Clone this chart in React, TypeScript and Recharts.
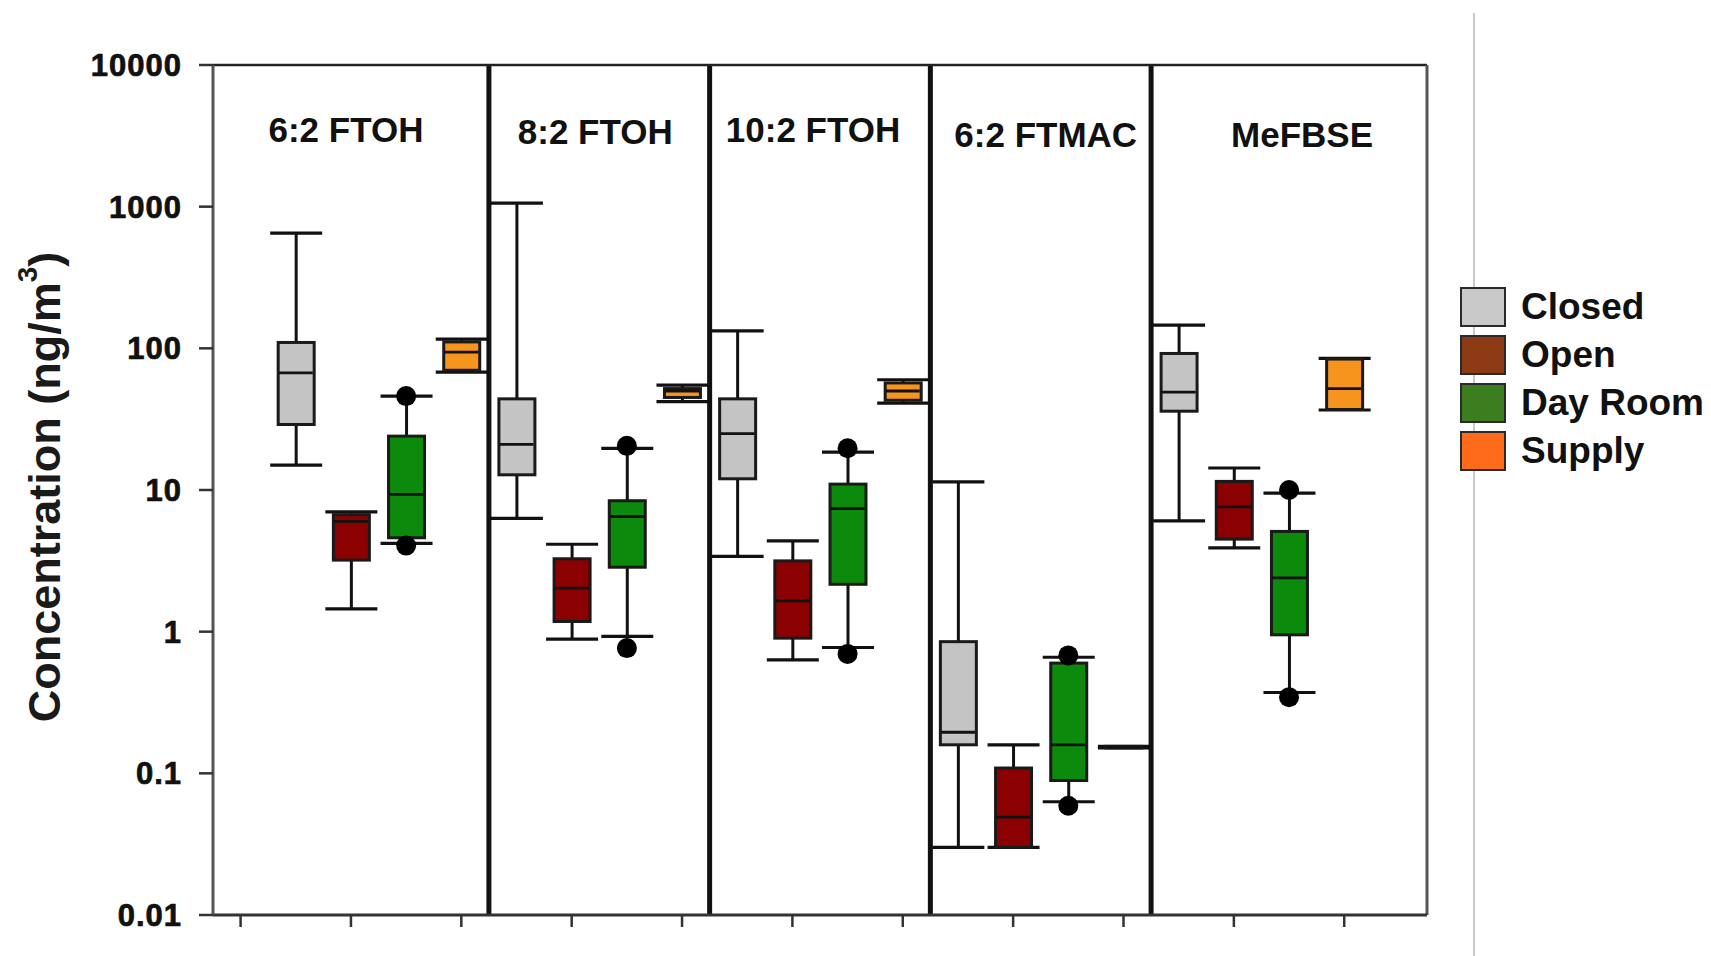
import React from 'react';
import {
  ComposedChart,
  XAxis,
  YAxis,
  Bar,
  Scatter,
  Cell,
  ReferenceLine,
  ReferenceArea,
  Legend,
} from 'recharts';

// ---------- data ----------
const compounds = ['6:2 FTOH', '8:2 FTOH', '10:2 FTOH', '6:2 FTMAC', 'MeFBSE'];
const groups = ['Closed', 'Open', 'Day Room', 'Supply'];

// [lower whisker, Q1, median, Q3, upper whisker] for each compound (ng/m3)
const closedStats = [
  [15, 29, 67, 110, 650],
  [6.3, 12.8, 21, 44, 1060],
  [3.4, 12, 25, 44, 133],
  [0.03, 0.159, 0.195, 0.85, 11.4],
  [6.05, 36, 49, 92, 146],
];
const openStats = [
  [1.45, 3.2, 6.0, 6.7, 7.0],
  [0.885, 1.18, 2.03, 3.27, 4.14],
  [0.632, 0.9, 1.65, 3.16, 4.37],
  [0.03, 0.03, 0.049, 0.109, 0.159],
  [3.9, 4.5, 7.6, 11.5, 14.3],
];
const dayRoomStats = [
  [4.2, 4.6, 9.3, 24, 46],
  [0.925, 2.85, 6.5, 8.4, 19.7],
  [0.773, 2.16, 7.4, 11, 18.5],
  [0.063, 0.089, 0.159, 0.6, 0.66],
  [0.372, 0.95, 2.4, 5.1, 9.5],
];
const supplyStats = [
  [68, 70, 94, 111, 116],
  [42, 45, 50, 52, 55],
  [41, 43, 50, 57, 60],
  [0.151, 0.151, 0.153, 0.155, 0.155],
  [36.7, 37, 52, 84, 85],
];
// Day Room outlier points [low, high] per compound
const dayRoomOutliers = [
  [4.05, 46],
  [0.766, 20.5],
  [0.697, 19.7],
  [0.059, 0.68],
  [0.345, 10],
];

const yTicks = [0.01, 0.1, 1, 10, 100, 1000, 10000];
const xTicks = [0, 2, 4, 6, 8, 10, 12, 14, 16, 18, 20];

// ---------- styles ----------
const boxColors = ['#c4c4c4', '#8b0000', '#0b8a0b', '#f7941d'];
const legendColors = ['#c9c9c9', '#8b3a14', '#3b7d1f', '#ff6b1a'];
const titleNudge = [
  { dx: -5, base: 77 },
  { dx: -4, base: 79 },
  { dx: -7, base: 77 },
  { dx: 5, base: 82 },
  { dx: 13, base: 82 },
];
const FONT = '"Liberation Sans", Arial, sans-serif';

// ---------- derived ----------
const statsByGroup = [closedStats, openStats, dayRoomStats, supplyStats];
const boxes = compounds.flatMap((c, ci) =>
  groups.map((g, gi) => {
    const [low, q1, med, q3, high] = statsByGroup[gi][ci];
    return { x: ci * 4 + gi + 1, compound: c, group: g, gi, low, q1, med, q3, high };
  })
);
const medianPoints = boxes.map((b) => ({ x: b.x, y: b.med }));
const outlierPoints = dayRoomOutliers.flatMap((pair, ci) =>
  pair.map((v) => ({ x: ci * 4 + 3, y: v }))
);
const xDomain = [-0.5, compounds.length * 4 + 1.5];

// ---------- shapes ----------
const WhiskerShape = (props: any) => {
  const { x, y, width, height } = props;
  const top = Math.min(y, y + height);
  const bot = Math.max(y, y + height);
  const cx = x + width / 2;
  return (
    <g>
      <line x1={cx} x2={cx} y1={top} y2={bot} stroke="#111" strokeWidth={3} />
      <line x1={x} x2={x + width} y1={top} y2={top} stroke="#111" strokeWidth={3.2} />
      <line x1={x} x2={x + width} y1={bot} y2={bot} stroke="#111" strokeWidth={3.2} />
    </g>
  );
};

const BoxShape = (props: any) => {
  const { x, y, width, height, payload } = props;
  const top = Math.min(y, y + height);
  const h = Math.abs(height);
  const fill = payload && payload.gi != null ? boxColors[payload.gi] : props.fill;
  return (
    <rect x={x} y={top} width={width} height={h} fill={fill} stroke="#1a1a1a" strokeWidth={3} />
  );
};

const MedianShape = (props: any) => {
  const { cx, cy } = props;
  return <line x1={cx - 17} x2={cx + 17} y1={cy} y2={cy} stroke="#111" strokeWidth={2.8} />;
};

const DotShape = (props: any) => {
  const { cx, cy } = props;
  return <circle cx={cx} cy={cy} r={10} fill="#000" />;
};

const EmptyTick = () => <g />;

const YTitle = (props: any) => {
  const vb = props.viewBox || { x: 0, y: 65, width: 213, height: 850 };
  const cx = vb.x + 44;
  const cy = vb.y + vb.height / 2 - 3;
  return (
    <text
      x={cx}
      y={cy}
      transform={`rotate(-90 ${cx} ${cy})`}
      textAnchor="middle"
      dominantBaseline="central"
      fontFamily={FONT}
      fontWeight={700}
      fontSize={45}
      fill="#1a1a1a"
    >
      Concentration (ng/m
      <tspan dy={-17} fontSize={28}>3</tspan>
      <tspan dy={17}>)</tspan>
    </text>
  );
};

const makeTitle = (ci: number) => (props: any) => {
  const vb = props.viewBox;
  if (!vb) return null;
  return (
    <text
      x={vb.x + vb.width / 2 + titleNudge[ci].dx}
      y={vb.y + titleNudge[ci].base}
      textAnchor="middle"
      fontFamily={FONT}
      fontWeight={700}
      fontSize={35}
      fill="#111"
    >
      {compounds[ci]}
    </text>
  );
};

const LegendContent = () => (
  <div style={{ display: 'flex', flexDirection: 'column', gap: 8 }}>
    {groups.map((g, i) => (
      <div key={g} style={{ display: 'flex', alignItems: 'center', height: 40 }}>
        <div
          style={{
            width: 46,
            height: 40,
            background: legendColors[i],
            border: '2.5px solid #2a2a2a',
            boxSizing: 'border-box',
            flex: 'none',
          }}
        />
        <span
          style={{
            marginLeft: 15,
            fontFamily: FONT,
            fontWeight: 700,
            fontSize: 37,
            color: '#111',
            whiteSpace: 'nowrap',
            lineHeight: '40px',
          }}
        >
          {g}
        </span>
      </div>
    ))}
  </div>
);

export default function App() {
  return (
    <div style={{ position: 'absolute', left: 0, top: 0, width: 1711, height: 956, background: '#fff' }}>
      <div
        style={{ position: 'absolute', left: 1473, top: 13, width: 2, height: 943, background: '#c8c8c8' }}
      />
      <ComposedChart
        width={1711}
        height={956}
        data={boxes}
        margin={{ top: 65, right: 284, bottom: 0, left: 0 }}
      >
        <XAxis
          xAxisId="main"
          type="number"
          dataKey="x"
          domain={xDomain}
          ticks={xTicks}
          interval={0}
          tick={EmptyTick}
          tickFormatter={() => ''}
          tickSize={12}
          height={41}
          allowDataOverflow
          axisLine={{ stroke: '#333', strokeWidth: 3 }}
          tickLine={{ stroke: '#333', strokeWidth: 2.5 }}
        />
        <XAxis
          xAxisId="whisk"
          orientation="top"
          type="number"
          dataKey="x"
          domain={xDomain}
          allowDataOverflow
          hide
        />
        <XAxis
          xAxisId="box"
          orientation="top"
          type="number"
          dataKey="x"
          domain={xDomain}
          allowDataOverflow
          hide
        />
        <YAxis
          type="number"
          scale="log"
          dataKey="y"
          domain={[0.01, 10000]}
          ticks={yTicks}
          interval={0}
          allowDataOverflow
          width={213}
          tickSize={14}
          tickMargin={17}
          tickFormatter={(v: number) => String(v)}
          axisLine={{ stroke: '#555', strokeWidth: 3 }}
          tickLine={{ stroke: '#333', strokeWidth: 2.5 }}
          tick={{
            fontSize: 31,
            fontWeight: 700,
            fill: '#111',
            stroke: '#111',
            strokeWidth: 0.7,
            fontFamily: FONT,
            letterSpacing: 1,
          }}
          label={{ content: (p: any) => <YTitle {...p} /> }}
        />

        {compounds.map((c, ci) => (
          <ReferenceArea
            key={c}
            xAxisId="main"
            x1={ci === 0 ? xDomain[0] : ci * 4 + 0.5}
            x2={ci === compounds.length - 1 ? xDomain[1] : ci * 4 + 4.5}
            fillOpacity={0}
            strokeOpacity={0}
            label={{ content: makeTitle(ci) }}
          />
        ))}

        <Bar
          xAxisId="whisk"
          dataKey={(d: any) => [d.low, d.high]}
          barSize={52}
          shape={WhiskerShape}
          isAnimationActive={false}
        />
        <Bar
          xAxisId="box"
          dataKey={(d: any) => [d.q1, d.q3]}
          barSize={36}
          shape={BoxShape}
          isAnimationActive={false}
        >
          {boxes.map((b, i) => (
            <Cell key={i} fill={boxColors[b.gi]} />
          ))}
        </Bar>

        {[1, 2, 3, 4].map((k) => (
          <ReferenceLine key={k} xAxisId="main" x={k * 4 + 0.5} stroke="#111" strokeWidth={5} />
        ))}
        <ReferenceLine xAxisId="main" y={10000} stroke="#222" strokeWidth={2.5} />
        <ReferenceLine xAxisId="main" x={xDomain[1]} stroke="#555" strokeWidth={3} />

        <Scatter
          xAxisId="main"
          data={medianPoints}
          shape={MedianShape}
          isAnimationActive={false}
        />
        <Scatter
          xAxisId="main"
          data={outlierPoints}
          shape={DotShape}
          isAnimationActive={false}
        />

        <Legend
          layout="vertical"
          align="center"
          verticalAlign="middle"
          wrapperStyle={{ position: 'absolute', left: 1460, top: 287, width: 251 }}
          content={() => <LegendContent />}
        />
      </ComposedChart>
    </div>
  );
}
